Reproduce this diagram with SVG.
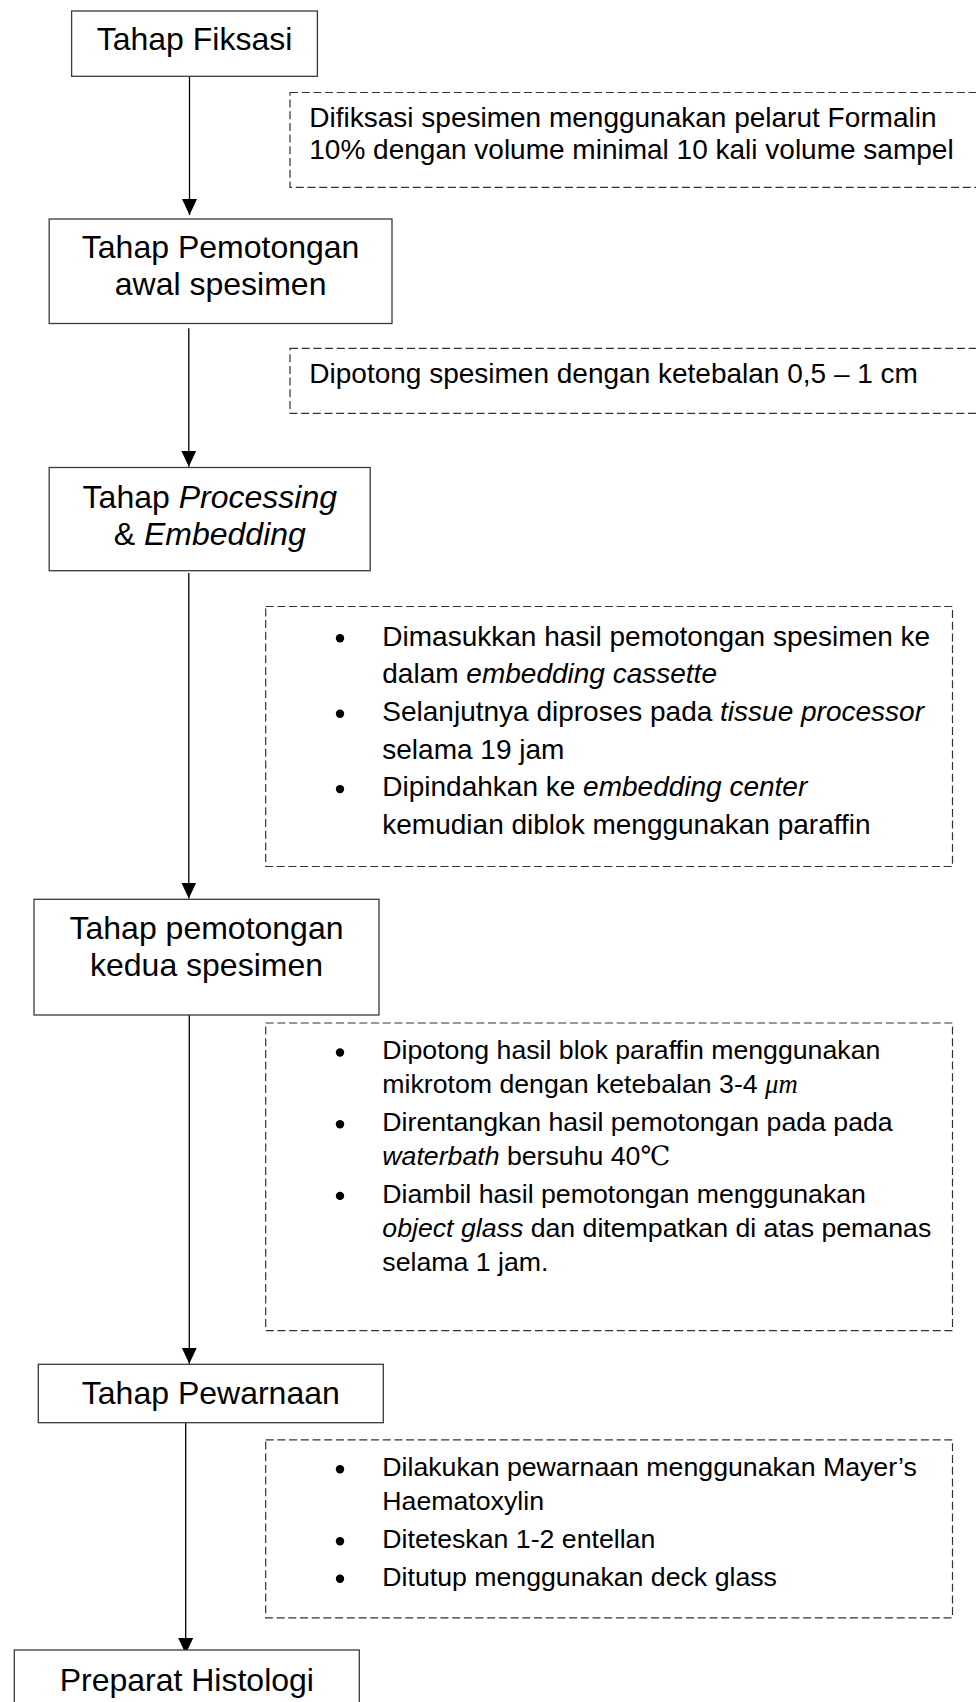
<svg xmlns="http://www.w3.org/2000/svg" width="976" height="1702" viewBox="0 0 976 1702">
<style>
  .node { fill: #ffffff; stroke: #3a3a3a; stroke-width: 1.3; }
  .note { fill: none; stroke: #333333; stroke-width: 1.2; stroke-dasharray: 8 3.7; }
  .nt { font-family: "Liberation Sans", Arial, sans-serif; font-size: 32px; fill: #000; text-anchor: middle; }
  .t28 { font-family: "Liberation Sans", Arial, sans-serif; font-size: 28px; fill: #000; }
  .t27 { font-family: "Liberation Sans", Arial, sans-serif; font-size: 26.7px; fill: #000; }
  .it { font-style: italic; }
  .math { font-family: "Liberation Serif", "DejaVu Serif", serif; font-style: italic; }
  .sym { font-family: "Liberation Serif", "DejaVu Serif", serif; }
  .conn line { stroke: #000; stroke-width: 1.3; fill: none; }
  .bul { fill: #000; }
</style>
<defs>
  <marker id="arr" markerUnits="userSpaceOnUse" markerWidth="16" markerHeight="16" viewBox="0 0 16 15" refX="16" refY="7.5" orient="auto">
    <path d="M0,0 L16,7.5 L0,15 z" fill="#000"/>
  </marker>
</defs>

<g id="connectors" class="conn">
  <line x1="189.5" y1="76.3" x2="189.5" y2="215" marker-end="url(#arr)"/>
  <line x1="188.8" y1="328.3" x2="188.8" y2="466.8" marker-end="url(#arr)"/>
  <line x1="188.8" y1="572.9" x2="188.8" y2="898.5" marker-end="url(#arr)"/>
  <line x1="189.3" y1="1015" x2="189.3" y2="1363.8" marker-end="url(#arr)"/>
  <line x1="185.7" y1="1422.7" x2="185.7" y2="1654" marker-end="url(#arr)"/>
</g>

<g id="node-fiksasi">
  <rect class="node" x="71.6" y="11" width="245.8" height="65.3"/>
  <text class="nt" x="194.5" y="50">Tahap Fiksasi</text>
</g>

<g id="note-fiksasi">
  <rect class="note" x="290" y="92.5" width="720" height="94.8"/>
  <text class="t28" x="309.3" y="127">Difiksasi spesimen menggunakan pelarut Formalin</text>
  <text class="t28" x="309.3" y="158.5">10% dengan volume minimal 10 kali volume sampel</text>
</g>

<g id="node-pemotongan-awal">
  <rect class="node" x="49.2" y="219" width="342.8" height="104.5"/>
  <text class="nt" x="220.6" y="258.3">Tahap Pemotongan</text>
  <text class="nt" x="220.6" y="295">awal spesimen</text>
</g>

<g id="note-pemotongan-awal">
  <rect class="note" x="290" y="348.3" width="720" height="65"/>
  <text class="t28" x="309.3" y="383.3">Dipotong spesimen dengan ketebalan 0,5 – 1 cm</text>
</g>

<g id="node-processing">
  <rect class="node" x="49.2" y="467.5" width="321" height="103.2"/>
  <text class="nt" x="209.8" y="507.5">Tahap <tspan class="it">Processing</tspan></text>
  <text class="nt" x="209.8" y="545">&amp; <tspan class="it">Embedding</tspan></text>
</g>

<g id="note-processing">
  <rect class="note" x="265.7" y="606.5" width="686.8" height="260"/>
  <circle class="bul" cx="340" cy="638.3" r="4.2"/>
  <text class="t28" x="382.3" y="645.5">Dimasukkan hasil pemotongan spesimen ke</text>
  <text class="t28" x="382.3" y="683.2">dalam <tspan class="it">embedding cassette</tspan></text>
  <circle class="bul" cx="340" cy="713.7" r="4.2"/>
  <text class="t28" x="382.3" y="720.9">Selanjutnya diproses pada <tspan class="it">tissue processor</tspan></text>
  <text class="t28" x="382.3" y="758.6">selama 19 jam</text>
  <circle class="bul" cx="340" cy="789.1" r="4.2"/>
  <text class="t28" x="382.3" y="796.3">Dipindahkan ke <tspan class="it">embedding center</tspan></text>
  <text class="t28" x="382.3" y="834">kemudian diblok menggunakan paraffin</text>
</g>

<g id="node-pemotongan-kedua">
  <rect class="node" x="34" y="899.3" width="345" height="115.7"/>
  <text class="nt" x="206.5" y="939">Tahap pemotongan</text>
  <text class="nt" x="206.5" y="976">kedua spesimen</text>
</g>

<g id="note-pemotongan-kedua">
  <rect class="note" x="265.7" y="1023" width="686.8" height="307.6"/>
  <circle class="bul" cx="340" cy="1052.5" r="4.2"/>
  <text class="t27" x="382.3" y="1059.3">Dipotong hasil blok paraffin menggunakan</text>
  <text class="t27" x="382.3" y="1093.3">mikrotom dengan ketebalan 3-4 <tspan class="math">μm</tspan></text>
  <circle class="bul" cx="340" cy="1124.2" r="4.2"/>
  <text class="t27" x="382.3" y="1131">Direntangkan hasil pemotongan pada pada</text>
  <text class="t27" x="382.3" y="1165"><tspan class="it">waterbath</tspan> bersuhu 40<tspan class="sym">℃</tspan></text>
  <circle class="bul" cx="340" cy="1195.9" r="4.2"/>
  <text class="t27" x="382.3" y="1202.7">Diambil hasil pemotongan menggunakan</text>
  <text class="t27" x="382.3" y="1236.7"><tspan class="it">object glass</tspan> dan ditempatkan di atas pemanas</text>
  <text class="t27" x="382.3" y="1270.7">selama 1 jam.</text>
</g>

<g id="node-pewarnaan">
  <rect class="node" x="38.3" y="1364.3" width="345" height="58.4"/>
  <text class="nt" x="210.8" y="1404">Tahap Pewarnaan</text>
</g>

<g id="note-pewarnaan">
  <rect class="note" x="265.7" y="1439.8" width="686.8" height="178"/>
  <circle class="bul" cx="340" cy="1469.2" r="4.2"/>
  <text class="t27" x="382.3" y="1476">Dilakukan pewarnaan menggunakan Mayer’s</text>
  <text class="t27" x="382.3" y="1510">Haematoxylin</text>
  <circle class="bul" cx="340" cy="1541.2" r="4.2"/>
  <text class="t27" x="382.3" y="1548">Diteteskan 1-2 entellan</text>
  <circle class="bul" cx="340" cy="1578.7" r="4.2"/>
  <text class="t27" x="382.3" y="1585.5">Ditutup menggunakan deck glass</text>
</g>

<g id="node-preparat">
  <rect class="node" x="14.3" y="1650" width="345" height="70"/>
  <text class="nt" x="186.8" y="1690.7">Preparat Histologi</text>
</g>
</svg>
